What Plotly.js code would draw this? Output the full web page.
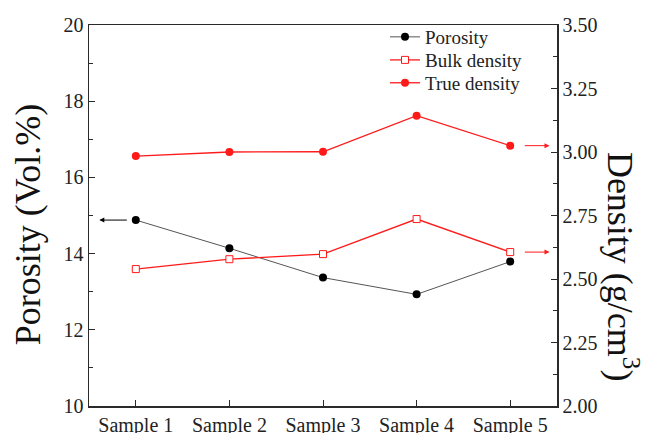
<!DOCTYPE html>
<html>
<head>
<meta charset="utf-8">
<script src="https://cdn.plot.ly/plotly-3.0.1.min.js"></script>
<style>html,body{margin:0;padding:0;background:#fff;}#chart{width:657px;height:433px;}</style>
</head>
<body>
<div id="chart"></div>
<script>
const categories = ['Sample 1', 'Sample 2', 'Sample 3', 'Sample 4', 'Sample 5'];
const porosity = [14.88, 14.14, 13.37, 12.93, 13.79];
const bulkDensity = [2.539, 2.578, 2.598, 2.736, 2.606];
const trueDensity = [2.984, 3.000, 3.001, 3.143, 3.025];
const leftTicks = [10, 12, 14, 16, 18, 20];
const rightTicks = [2.00, 2.25, 2.50, 2.75, 3.00, 3.25, 3.50];

const serif = 'Liberation Serif, Times New Roman, serif';
const red = '#ff1a1a';
const axisColor = '#2a2a2a';

const traces = [
  {
    x: categories, y: porosity, name: 'Porosity', type: 'scatter', mode: 'lines+markers',
    line: {color: '#555555', width: 1},
    marker: {color: '#000000', size: 8, symbol: 'circle'},
    yaxis: 'y', legend: 'legend'
  },
  {
    x: categories, y: bulkDensity, name: 'Bulk density', type: 'scatter', mode: 'lines+markers',
    line: {color: red, width: 1.3},
    marker: {color: '#ffffff', size: 7, symbol: 'square', line: {color: red, width: 1}},
    yaxis: 'y2', legend: 'legend2'
  },
  {
    x: categories, y: trueDensity, name: 'True density', type: 'scatter', mode: 'lines+markers',
    line: {color: red, width: 1.3},
    marker: {color: red, size: 8, symbol: 'circle'},
    yaxis: 'y2', legend: 'legend3'
  }
];

function legendAt(yPaper) {
  return {
    x: 0.6325, y: yPaper, xanchor: 'left', yanchor: 'middle',
    bgcolor: 'rgba(0,0,0,0)', borderwidth: 0,
    font: {family: serif, size: 19, color: '#222222'}
  };
}

const last = categories.length - 1;
const layout = {
  width: 657, height: 433,
  margin: {l: 89, r: 100, t: 25, b: 27},
  paper_bgcolor: '#ffffff', plot_bgcolor: '#ffffff',
  font: {family: serif, color: '#222222', size: 20},
  showlegend: true,
  legend: legendAt(0.9685),
  legend2: legendAt(0.908),
  legend3: legendAt(0.848),
  xaxis: {
    type: 'category', categoryarray: categories, range: [-0.5, 4.5],
    showline: true, linecolor: axisColor, linewidth: 1.5, mirror: true,
    ticks: 'inside', ticklen: 6, tickwidth: 1, tickcolor: axisColor,
    showgrid: false, zeroline: false, automargin: false,
    tickfont: {family: serif, size: 20, color: '#222222'}
  },
  yaxis: {
    range: [10, 20], tickvals: leftTicks, ticktext: leftTicks.map(String),
    showline: true, linecolor: axisColor, linewidth: 1.5,
    ticks: 'inside', ticklen: 6, tickwidth: 1, tickcolor: axisColor,
    minor: {ticks: 'inside', ticklen: 4, dtick: 1, tickcolor: axisColor, showgrid: false},
    showgrid: false, zeroline: false, automargin: false,
    tickfont: {family: serif, size: 20, color: '#222222'}
  },
  yaxis2: {
    overlaying: 'y', side: 'right', range: [2.0, 3.5],
    tickvals: rightTicks, ticktext: rightTicks.map(v => v.toFixed(2)),
    showline: true, linecolor: axisColor, linewidth: 1.5,
    ticks: 'inside', ticklen: 6, tickwidth: 1, tickcolor: axisColor,
    minor: {ticks: 'inside', ticklen: 4, dtick: 0.125, tickcolor: axisColor, showgrid: false},
    showgrid: false, zeroline: false, automargin: false,
    tickfont: {family: serif, size: 20, color: '#222222'}
  },
  annotations: [
    {
      xref: 'paper', yref: 'paper', x: -0.130, y: 0.475, xanchor: 'center', yanchor: 'middle',
      textangle: -90, text: 'Porosity (Vol.%)', showarrow: false,
      font: {family: serif, size: 36, color: '#111111'}
    },
    {
      xref: 'paper', yref: 'paper', x: 1.139, y: 0.365, xanchor: 'center', yanchor: 'middle',
      textangle: 90, text: 'Density (g/cm<sup>3</sup>)', showarrow: false,
      font: {family: serif, size: 36, color: '#111111'}
    },
    {
      xref: 'x', yref: 'y', axref: 'x', ayref: 'y',
      x: -0.39, y: porosity[0], ax: -0.08, ay: porosity[0],
      showarrow: true, arrowhead: 2, arrowsize: 1, arrowwidth: 1, arrowcolor: '#000000', text: ''
    },
    {
      xref: 'x', yref: 'y2', axref: 'x', ayref: 'y2',
      x: last + 0.42, y: trueDensity[last], ax: last + 0.14, ay: trueDensity[last],
      showarrow: true, arrowhead: 2, arrowsize: 1, arrowwidth: 1, arrowcolor: red, text: ''
    },
    {
      xref: 'x', yref: 'y2', axref: 'x', ayref: 'y2',
      x: last + 0.42, y: bulkDensity[last], ax: last + 0.14, ay: bulkDensity[last],
      showarrow: true, arrowhead: 2, arrowsize: 1, arrowwidth: 1, arrowcolor: red, text: ''
    }
  ]
};

Plotly.newPlot('chart', traces, layout, {staticPlot: true, displayModeBar: false});
</script>
</body>
</html>
